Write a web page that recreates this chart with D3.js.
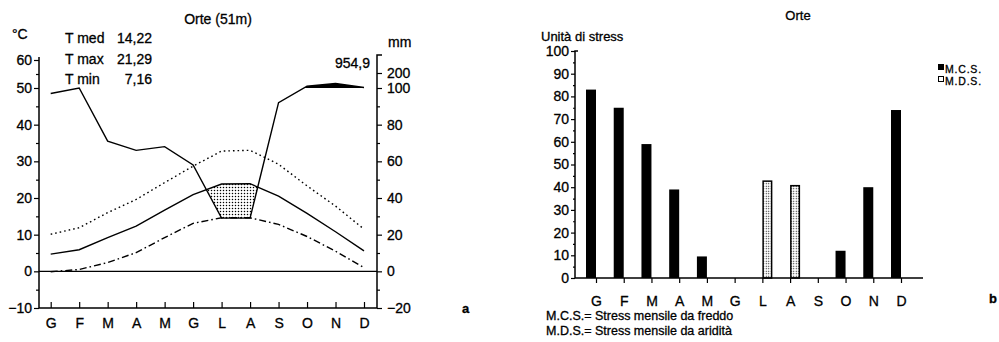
<!DOCTYPE html>
<html lang="it">
<head>
<meta charset="UTF-8">
<title>Orte - diagramma climatico e stress mensile</title>
<script src="https://d3js.org/d3.v7.min.js"></script>
<style>
  body { margin: 0; background: #fff; }
  svg { display: block; font-family: "Liberation Sans", Arial, sans-serif; }
  svg text { fill: #000; stroke: #000; stroke-width: 0.3px; }
  .asse path, .asse line { stroke: #000; stroke-width: 1.2; }
  .asse text { font-size: 14px; font-family: "Liberation Sans", Arial, sans-serif; }
</style>
</head>
<body>
<svg id="grafico" width="999" height="342"></svg>
<script>
// mesi (G F M A M G L A S O N D) - indici 0..11 perche' ci sono lettere ripetute
const mesi = ["G", "F", "M", "A", "M", "G", "L", "A", "S", "O", "N", "D"];

// diagramma a: temperature (°C) e precipitazioni (mm)
const tMed = [4.7, 5.9, 9.2, 12.3, 16.7, 20.9, 23.8, 23.9, 20.5, 15.8, 10.8, 5.6];
const tMax = [10.1, 11.9, 16.0, 19.6, 24.2, 28.7, 32.8, 33.0, 29.2, 23.3, 17.8, 11.5];
const tMin = [-0.1, 0.5, 2.4, 5.1, 9.2, 13.1, 14.6, 14.6, 12.8, 9.5, 5.5, 1.0];
const prec = [97, 100, 71, 66, 68, 58, 29, 29, 92, 112, 130, 103];
const statT = [["T med", "14,22"], ["T max", "21,29"], ["T min", "7,16"]];
const precTot = "954,9";
const tickT = [-10, 0, 10, 20, 30, 40, 50, 60];
const tickMm = [-20, 0, 20, 40, 60, 80, 100, 200];

// diagramma b: unita' di stress
const mcs = [83, 75, 59, 39, 9.5, 0, 0, 0, 0, 12, 40, 74];   // stress da freddo
const mds = [0, 0, 0, 0, 0, 0, 43, 41, 0, 0, 0, 0];          // stress da aridita'
const serie = ["M.C.S.", "M.D.S."];
const note = ["M.C.S.= Stress mensile da freddo", "M.D.S.= Stress mensile da aridità"];

const svg = d3.select("#grafico");

const defs = svg.append("defs");
const puntini = defs.append("pattern")
  .attr("id", "puntini").attr("patternUnits", "userSpaceOnUse")
  .attr("width", 3).attr("height", 3);
puntini.append("rect").attr("width", 3).attr("height", 3).attr("fill", "#fff");
puntini.append("circle").attr("cx", 1.5).attr("cy", 1.5).attr("r", 0.75).attr("fill", "#000");

const retino = defs.append("pattern")
  .attr("id", "retino").attr("patternUnits", "userSpaceOnUse")
  .attr("width", 2.5).attr("height", 2.5);
retino.append("rect").attr("width", 2.5).attr("height", 2.5).attr("fill", "#fff");
retino.append("circle").attr("cx", 1.25).attr("cy", 1.25).attr("r", 0.6).attr("fill", "#000");

// ---------- a: diagramma climatico ----------
const A = { left: 39, right: 377, top: 57, bottom: 308 };

const x = d3.scaleLinear().domain([0, 11]).range([50.7, 364]);
const yT = d3.scaleLinear().domain([-10, 50, 60]).range([A.bottom, 88, 60]);
const yMm = d3.scaleLinear().domain([-20, 100, 200]).range([A.bottom, 88, 73]);

const gA = svg.append("g");

// trova le zone in cui la serie "sopra" sta sopra alla serie "sotto" (coordinate in pixel)
function zone(xs, ySopra, ySotto) {
  const out = [];
  let cur = null;
  for (let i = 0; i < xs.length; i++) {
    const d = ySotto[i] - ySopra[i];
    if (i > 0) {
      const dp = ySotto[i - 1] - ySopra[i - 1];
      if ((dp > 0) !== (d > 0)) {
        const t = dp / (dp - d);
        const yy = ySopra[i - 1] + t * (ySopra[i] - ySopra[i - 1]);
        const p = { x: xs[i - 1] + t * (xs[i] - xs[i - 1]), y: yy, y0: yy };
        if (cur) { cur.push(p); out.push(cur); cur = null; } else cur = [p];
      }
    }
    if (d > 0) {
      if (!cur) cur = [];
      cur.push({ x: xs[i], y: ySopra[i], y0: ySotto[i] });
    }
  }
  if (cur) out.push(cur);
  return out;
}

const xs = mesi.map((m, i) => x(i));
const area = d3.area().x(d => d.x).y0(d => d.y0).y1(d => d.y);

// periodo arido (temperatura sopra precipitazione)
zone(xs, tMed.map(yT), prec.map(yMm)).forEach(z => {
  gA.append("path").attr("d", area(z)).attr("fill", "url(#puntini)");
});
// precipitazioni oltre 100 mm
zone(xs, prec.map(yMm), prec.map(() => yMm(100))).forEach(z => {
  gA.append("path").attr("d", area(z)).attr("fill", "#000");
});

// linea dello zero
gA.append("line")
  .attr("x1", A.left).attr("x2", A.right)
  .attr("y1", yT(0)).attr("y2", yT(0))
  .attr("stroke", "#000").attr("stroke-width", 1.3);

const linea = (scala) => d3.line().x((d, i) => x(i)).y(d => scala(d));

gA.append("path").datum(tMax).attr("d", linea(yT))
  .attr("fill", "none").attr("stroke", "#000").attr("stroke-width", 1.4)
  .attr("stroke-dasharray", "1.6,3");
gA.append("path").datum(tMin).attr("d", linea(yT))
  .attr("fill", "none").attr("stroke", "#000").attr("stroke-width", 1.4)
  .attr("stroke-dasharray", "7,3,1.6,3");
gA.append("path").datum(tMed).attr("d", linea(yT))
  .attr("fill", "none").attr("stroke", "#000").attr("stroke-width", 1.4);
gA.append("path").datum(prec).attr("d", linea(yMm))
  .attr("fill", "none").attr("stroke", "#000").attr("stroke-width", 1.4);

// assi
gA.append("g").attr("class", "asse").attr("transform", `translate(${A.left},0)`)
  .call(d3.axisLeft(yT).tickValues(tickT).tickSize(5).tickSizeOuter(0).tickPadding(2))
  .call(g => g.select(".domain").remove());
gA.append("g").attr("class", "asse").attr("transform", `translate(${A.left},0)`)
  .call(d3.axisLeft(yT).tickValues(d3.range(-5, 60, 10)).tickSize(3).tickFormat(""))
  .call(g => g.select(".domain").remove());
gA.append("g").attr("class", "asse").attr("transform", `translate(${A.right},0)`)
  .call(d3.axisRight(yMm).tickValues(tickMm).tickSize(5).tickPadding(5))
  .call(g => g.select(".domain").remove());
gA.append("g").attr("class", "asse").attr("transform", `translate(${A.right},0)`)
  .call(d3.axisRight(yMm).tickValues(d3.range(-10, 100, 20)).tickSize(3).tickFormat(""))
  .call(g => g.select(".domain").remove());
gA.append("g").attr("class", "asse").attr("transform", `translate(0,${A.bottom})`)
  .call(d3.axisBottom(x).tickValues(d3.range(12)).tickFormat(i => mesi[i]).tickSize(-6).tickPadding(10))
  .call(g => g.select(".domain").remove());

// cornice
gA.append("path")
  .attr("d", `M${A.left},${A.top}V${A.bottom}H${A.right}V${A.top - 2}h5`)
  .attr("fill", "none").attr("stroke", "#000").attr("stroke-width", 1.5);

// testi
gA.append("text").attr("x", 218).attr("y", 24).attr("text-anchor", "middle")
  .attr("font-size", 14).text("Orte (51m)");
gA.append("text").attr("x", 12).attr("y", 39).attr("font-size", 14).text("°C");
gA.append("text").attr("x", 388).attr("y", 47).attr("font-size", 14).text("mm");
gA.append("text").attr("x", 370).attr("y", 68).attr("text-anchor", "end")
  .attr("font-size", 14).text(precTot);
statT.forEach((s, i) => {
  gA.append("text").attr("x", 65).attr("y", 43 + i * 20.5).attr("font-size", 14).text(s[0]);
  gA.append("text").attr("x", 152).attr("y", 43 + i * 20.5).attr("text-anchor", "end")
    .attr("font-size", 14).text(s[1]);
});
gA.append("text").attr("x", 462).attr("y", 313).attr("font-size", 13)
  .attr("font-weight", "bold").text("a");

// ---------- b: stress mensile ----------
const B = { left: 575, right: 923, top: 51, bottom: 278 };

const xB = d3.scalePoint().domain(d3.range(12)).range([596, 901]);
const yS = d3.scaleLinear().domain([0, 100]).range([B.bottom, B.top]);
const sub = d3.scaleBand().domain(serie).range([-10, 10]);

const gB = svg.append("g");

gB.selectAll("rect.mcs")
  .data(mcs.map((v, i) => ({ i, v })).filter(d => d.v > 0))
  .join("rect").attr("class", "mcs")
  .attr("x", d => xB(d.i) + sub(serie[0]))
  .attr("width", sub.bandwidth())
  .attr("y", d => yS(d.v))
  .attr("height", d => yS(0) - yS(d.v))
  .attr("fill", "#000");

gB.selectAll("rect.mds")
  .data(mds.map((v, i) => ({ i, v })).filter(d => d.v > 0))
  .join("rect").attr("class", "mds")
  .attr("x", d => xB(d.i) + sub(serie[1]) + 0.75)
  .attr("width", sub.bandwidth() - 1.5)
  .attr("y", d => yS(d.v) + 0.75)
  .attr("height", d => yS(0) - yS(d.v) - 0.75)
  .attr("fill", "url(#retino)")
  .attr("stroke", "#000").attr("stroke-width", 1.5);

gB.append("g").attr("class", "asse").attr("transform", `translate(${B.left},0)`)
  .call(d3.axisLeft(yS).tickValues(d3.range(0, 101, 10)).tickSize(4).tickSizeOuter(0).tickPadding(2))
  .call(g => g.select(".domain").remove());
gB.append("g").attr("class", "asse").attr("transform", `translate(${B.left},0)`)
  .call(d3.axisLeft(yS).tickValues(d3.range(5, 100, 10)).tickSize(2).tickFormat(""))
  .call(g => g.select(".domain").remove());
gB.append("g").attr("class", "asse").attr("transform", `translate(0,${B.bottom})`)
  .call(d3.axisBottom(xB).tickFormat(i => mesi[i]).tickSize(5).tickPadding(13))
  .call(g => g.select(".domain").remove());

gB.append("path")
  .attr("d", `M${B.left + 3},${B.top}H${B.left}V${B.bottom}H${B.right}`)
  .attr("fill", "none").attr("stroke", "#000").attr("stroke-width", 1.5);

gB.append("text").attr("x", 798).attr("y", 20).attr("text-anchor", "middle")
  .attr("font-size", 13).text("Orte");
gB.append("text").attr("x", 541).attr("y", 41).attr("font-size", 13).text("Unità di stress");
note.forEach((n, i) => {
  gB.append("text").attr("x", 546).attr("y", 320 + i * 14.5).attr("font-size", 12.5).text(n);
});

// legenda
serie.forEach((s, i) => {
  gB.append("rect").attr("x", 938.5).attr("y", 64.5 + i * 12).attr("width", 5).attr("height", 5)
    .attr("fill", i === 0 ? "#000" : "#fff").attr("stroke", "#000").attr("stroke-width", 1);
  gB.append("text").attr("x", 945).attr("y", 73 + i * 12).attr("font-size", 10.5)
    .attr("letter-spacing", 0.8).text(s);
});

gB.append("text").attr("x", 989).attr("y", 303).attr("font-size", 13)
  .attr("font-weight", "bold").text("b");
</script>
</body>
</html>
